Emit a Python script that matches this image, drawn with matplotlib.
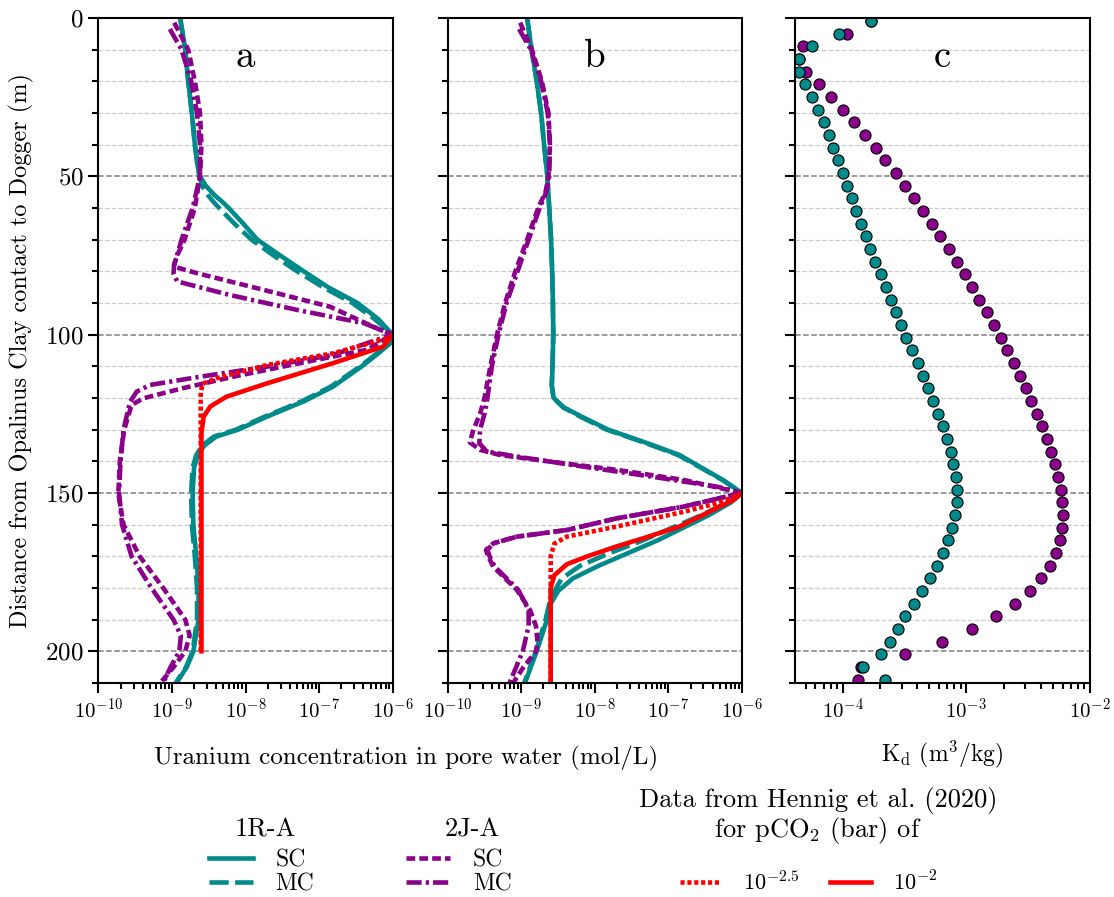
import matplotlib
matplotlib.use('Agg')
import matplotlib.pyplot as plt
import numpy as np
from matplotlib.ticker import MultipleLocator, LogLocator, NullFormatter

plt.rcParams['font.family'] = 'serif'
plt.rcParams['font.serif'] = ['cmr10']
plt.rcParams['mathtext.fontset'] = 'cm'
plt.rcParams['axes.formatter.use_mathtext'] = True

teal = '#008b8a'
purple = '#8b008b'
red = '#ff0000'

# ---------------- panel a (log10 of concentration in mol/L) ----------------
a_1r_sc_depth = [0, 10, 20, 30, 40, 47, 50, 53, 56, 58, 60, 65, 70, 75, 80, 85, 90, 95, 100,
                 102.7, 106, 110, 116.4, 121, 125.9, 130, 132.2, 135, 138, 142, 150, 160,
                 170, 180, 190, 200, 205, 210]
a_1r_sc_log = [-8.89, -8.82, -8.78, -8.73, -8.69, -8.65, -8.62, -8.54, -8.42, -8.32, -8.23,
               -8.03, -7.84, -7.53, -7.21, -6.88, -6.48, -6.20, -6.0,
               -6.03, -6.20, -6.42, -6.81, -7.20, -7.71, -8.10, -8.40, -8.56, -8.65, -8.70,
               -8.72, -8.71, -8.67, -8.64, -8.64, -8.71, -8.80, -8.94]
a_1r_mc_depth = [0, 10, 20, 30, 40, 47, 50, 53, 56, 58, 60, 65, 70, 75, 80, 85, 90, 95, 100,
                 102.7, 106, 110, 116.4, 121, 125.9, 130, 132.2, 135, 138, 142, 150, 160,
                 170, 180, 190, 200, 205, 210]
a_1r_mc_log = [-8.89, -8.82, -8.78, -8.73, -8.69, -8.65, -8.63, -8.59, -8.51, -8.44, -8.36,
               -8.15, -7.92, -7.62, -7.30, -6.95, -6.55, -6.25, -6.0,
               -6.04, -6.22, -6.44, -6.84, -7.23, -7.74, -8.13, -8.43, -8.59, -8.67, -8.72,
               -8.74, -8.73, -8.69, -8.66, -8.66, -8.72, -8.81, -8.95]
a_2j_sc_depth = [1.5, 10, 20, 30, 40, 50, 60, 70, 75, 78.5, 80.6, 85.9, 91.2, 98.5, 100,
                 104.8, 109, 113.3, 116.9, 120.1, 122.2, 130, 140, 150, 160, 170, 180, 190,
                 195, 200, 205, 210]
a_2j_sc_log = [-8.97, -8.78, -8.69, -8.62, -8.60, -8.62, -8.69, -8.83, -8.93, -8.98, -8.66,
               -7.75, -6.85, -6.17, -6.0, -6.35, -7.26, -8.17, -8.85, -9.39, -9.55, -9.65,
               -9.71, -9.73, -9.66, -9.44, -9.12, -8.82, -8.76, -8.82, -8.98, -9.16]
a_2j_mc_depth = [3.5, 10, 20, 30, 40, 50, 60, 70, 78, 80.6, 83.2, 87.5, 92.2, 96.4, 100,
                 102.7, 106.4, 110.1, 113.3, 115.9, 118, 121.2, 130, 140, 150, 160, 170, 180,
                 190, 195, 200, 205, 210]
a_2j_mc_log = [-9.03, -8.87, -8.74, -8.66, -8.62, -8.62, -8.72, -8.87, -8.97, -8.98, -8.93,
               -8.21, -7.30, -6.39, -6.0, -6.35, -6.81, -7.71, -8.62, -9.30, -9.48, -9.57,
               -9.66, -9.70, -9.72, -9.68, -9.55, -9.28, -8.98, -8.88, -8.90, -9.02, -9.12]
a_red_25_depth = [100, 101, 105.9, 109.6, 113.8, 115.5, 118, 132, 200]
a_red_25_log = [-6.0, -6.05, -6.81, -7.71, -8.40, -8.58, -8.61, -8.61, -8.61]
a_red_2_depth = [100, 103.8, 109, 115.4, 119.6, 122.7, 125.9, 131, 200]
a_red_2_log = [-6.0, -6.13, -6.81, -7.71, -8.26, -8.48, -8.57, -8.60, -8.60]

# ---------------- panel b ----------------
b_1r_sc_depth = [0, 10, 20, 30, 40, 50, 60, 70, 80, 90, 100, 110, 116, 120, 123, 126, 130,
                 134, 138, 142, 146, 150, 153, 157, 161, 165, 169, 173, 177, 181, 185, 190,
                 200, 210]
b_1r_sc_log = [-8.92, -8.86, -8.79, -8.73, -8.69, -8.645, -8.62, -8.595, -8.58, -8.57,
               -8.565, -8.575, -8.585, -8.56, -8.42, -8.17, -7.82, -7.32, -6.85, -6.55,
               -6.25, -6.0, -6.15, -6.45, -6.80, -7.15, -7.55, -7.95, -8.30, -8.50, -8.60,
               -8.65, -8.79, -8.95]
b_1r_mc_depth = [0, 10, 20, 30, 40, 50, 60, 70, 80, 90, 100, 110, 116, 120, 123, 126, 130,
                 134, 138, 142, 146, 150, 153, 157, 161, 165, 169, 173, 177, 181, 185, 190,
                 200, 210]
b_1r_mc_log = [-8.92, -8.86, -8.79, -8.73, -8.69, -8.645, -8.62, -8.595, -8.58, -8.57,
               -8.565, -8.575, -8.585, -8.565, -8.43, -8.19, -7.84, -7.34, -6.87, -6.56,
               -6.26, -6.0, -6.20, -6.55, -6.95, -7.35, -7.80, -8.20, -8.45, -8.55, -8.62,
               -8.67, -8.80, -8.96]
b_2j_sc_depth = [1.5, 10, 20, 30, 40, 50, 55, 60, 70, 80, 90, 100, 110, 120, 125, 130, 134,
                 136.4, 138, 140.1, 142.7, 145.9, 150, 154.3, 158, 161.7, 163.8, 165.9, 168,
                 170, 173.3, 180.6, 187, 192, 197, 200, 205, 210]
b_2j_sc_log = [-9.015, -8.856, -8.72, -8.63, -8.61, -8.63, -8.67, -8.77, -8.92, -9.08,
               -9.22, -9.33, -9.42, -9.50, -9.56, -9.65, -9.70, -9.56, -9.29, -8.61, -7.70,
               -6.79, -6.0, -6.79, -7.70, -8.38, -9.06, -9.38, -9.48, -9.45, -9.38, -9.06,
               -8.88, -8.80, -8.78, -8.80, -8.97, -9.11]
b_2j_mc_depth = [3.5, 10, 20, 30, 40, 50, 55, 60, 70, 80, 90, 100, 110, 120, 125, 130,
                 134.3, 136.9, 138.5, 141.7, 144.8, 148, 150, 154.3, 158, 161.7, 163.8,
                 165.9, 168, 170, 173.3, 180.6, 187, 192, 197, 200, 205, 210]
b_2j_mc_log = [-9.03, -8.87, -8.73, -8.64, -8.61, -8.62, -8.66, -8.75, -8.90, -9.05, -9.20,
               -9.31, -9.40, -9.46, -9.50, -9.56, -9.57, -9.47, -9.06, -8.15, -7.24, -6.34,
               -6.0, -6.79, -7.70, -8.38, -9.06, -9.38, -9.46, -9.43, -9.36, -9.04, -8.90,
               -8.90, -8.95, -8.98, -9.07, -9.16]
b_red_25_depth = [150, 153, 156, 160.6, 163.8, 166, 170, 210]
b_red_25_log = [-6.0, -6.3, -6.8, -7.70, -8.38, -8.55, -8.60, -8.60]
b_red_2_depth = [150, 152, 156, 160.6, 164, 167, 170, 172.5, 176, 180, 210]
b_red_2_log = [-6.0, -6.1, -6.45, -6.85, -7.30, -7.72, -8.10, -8.38, -8.55, -8.60, -8.60]

# ---------------- panel c: Kd (m3/kg) ----------------
kd_depth = [1, 5, 9, 13, 17, 21, 25, 29, 33, 37, 41, 45, 49, 53, 57, 61, 65, 69, 73, 77,
            81, 85, 89, 93, 97, 101, 105, 109, 113, 117, 121, 125, 129, 133, 137, 141, 145,
            149, 153, 157, 161, 165, 169, 173, 177, 181, 185, 189, 193, 197, 201, 205, 209]
kd_1r = [1.69e-4, 9.4e-5, 5.66e-5, 4.44e-5, 4.44e-5, 4.97e-5, 5.62e-5, 6.33e-5, 7.08e-5,
         7.7e-5, 8.4e-5, 9.2e-5, 1.0e-4, 1.08e-4, 1.18e-4, 1.28e-4, 1.41e-4, 1.53e-4,
         1.67e-4, 1.83e-4, 2.02e-4, 2.22e-4, 2.44e-4, 2.67e-4, 2.96e-4, 3.27e-4, 3.61e-4,
         4.04e-4, 4.43e-4, 4.93e-4, 5.38e-4, 5.94e-4, 6.44e-4, 6.99e-4, 7.47e-4, 7.85e-4,
         8.26e-4, 8.42e-4, 8.36e-4, 8.15e-4, 7.66e-4, 7.15e-4, 6.49e-4, 5.8e-4, 5.05e-4,
         4.38e-4, 3.75e-4, 3.21e-4, 2.81e-4, 2.42e-4, 2.03e-4, 1.47e-4, 2.19e-4]
kd_2j = [1.69e-4, 1.08e-4, 4.8e-5, 4.44e-5, 5.06e-5, 6.37e-5, 8.0e-5, 1.0e-4, 1.24e-4,
         1.52e-4, 1.84e-4, 2.21e-4, 2.67e-4, 3.17e-4, 3.77e-4, 4.47e-4, 5.25e-4, 6.17e-4,
         7.2e-4, 8.36e-4, 9.7e-4, 1.11e-3, 1.27e-3, 1.46e-3, 1.67e-3, 1.89e-3, 2.15e-3,
         2.42e-3, 2.74e-3, 3.04e-3, 3.36e-3, 3.71e-3, 4.1e-3, 4.47e-3, 4.87e-3, 5.21e-3,
         5.54e-3, 5.83e-3, 5.97e-3, 6.0e-3, 5.97e-3, 5.75e-3, 5.34e-3, 4.75e-3, 4.04e-3,
         3.27e-3, 2.46e-3, 1.74e-3, 1.11e-3, 6.37e-4, 3.21e-4, 1.41e-4, 1.32e-4]

lw = 3.3
st_1r_mc = (0, (4.2, 1.4))
st_2j_sc = (0, (1.9, 0.9))
st_2j_mc = (0, (3.3, 0.9, 0.7, 0.9))
st_red_25 = (0, (0.9, 0.6))

fig = plt.figure(figsize=(11.14, 8.97), dpi=100)
bottom, height = 0.2386, 0.7414
ax_a = fig.add_axes([0.0884, bottom, 0.2641, height])
ax_b = fig.add_axes([0.4019, bottom, 0.2641, height])
ax_c = fig.add_axes([0.7136, bottom, 0.2648, height])


def conc(v):
    return 10.0 ** np.asarray(v)


handles = {}
for ax, d in [(ax_a, dict(sc=(a_1r_sc_depth, a_1r_sc_log), mc=(a_1r_mc_depth, a_1r_mc_log),
                          jsc=(a_2j_sc_depth, a_2j_sc_log), jmc=(a_2j_mc_depth, a_2j_mc_log),
                          r25=(a_red_25_depth, a_red_25_log), r2=(a_red_2_depth, a_red_2_log))),
              (ax_b, dict(sc=(b_1r_sc_depth, b_1r_sc_log), mc=(b_1r_mc_depth, b_1r_mc_log),
                          jsc=(b_2j_sc_depth, b_2j_sc_log), jmc=(b_2j_mc_depth, b_2j_mc_log),
                          r25=(b_red_25_depth, b_red_25_log), r2=(b_red_2_depth, b_red_2_log)))]:
    handles['sc'], = ax.plot(conc(d['sc'][1]), d['sc'][0], color=teal, lw=lw)
    handles['mc'], = ax.plot(conc(d['mc'][1]), d['mc'][0], color=teal, lw=lw, ls=st_1r_mc)
    handles['jsc'], = ax.plot(conc(d['jsc'][1]), d['jsc'][0], color=purple, lw=lw, ls=st_2j_sc)
    handles['jmc'], = ax.plot(conc(d['jmc'][1]), d['jmc'][0], color=purple, lw=lw, ls=st_2j_mc)
    handles['r25'], = ax.plot(conc(d['r25'][1]), d['r25'][0], color=red, lw=lw, ls=st_red_25)
    handles['r2'], = ax.plot(conc(d['r2'][1]), d['r2'][0], color=red, lw=lw)
    ax.set_xscale('log')
    ax.set_xlim(1e-10, 1e-6)

ax_c.plot(kd_2j, kd_depth, 'o', color=purple, mec='black', mew=0.8, ms=8)
ax_c.plot(kd_1r, kd_depth, 'o', color=teal, mec='black', mew=0.8, ms=8)
ax_c.set_xscale('log')
ax_c.set_xlim(4.1e-5, 1e-2)

for ax, letter in [(ax_a, 'a'), (ax_b, 'b'), (ax_c, 'c')]:
    ax.set_ylim(210, 0)
    ax.yaxis.set_major_locator(MultipleLocator(50))
    ax.yaxis.set_minor_locator(MultipleLocator(10))
    ax.xaxis.set_major_locator(LogLocator(base=10, numticks=10))
    ax.xaxis.set_minor_locator(LogLocator(base=10, subs=np.arange(2, 10), numticks=100))
    ax.xaxis.set_minor_formatter(NullFormatter())
    ax.grid(axis='y', which='major', color='#808080', ls='--', lw=1.1)
    ax.grid(axis='y', which='minor', color='#cccccc', ls='--', lw=0.9)
    ax.tick_params(which='both', direction='out', width=1.5, labelsize=15, top=False, right=False)
    ax.tick_params(axis='y', labelsize=18)
    ax.tick_params(which='major', length=7)
    ax.tick_params(which='minor', length=4)
    for sp in ax.spines.values():
        sp.set_linewidth(1.5)
    ax.text(0.5, 0.941, letter, transform=ax.transAxes, ha='center', va='center', fontsize=28)

ax_b.tick_params(labelleft=False)
ax_c.tick_params(labelleft=False)

ax_a.set_ylabel('Distance from Opalinus Clay contact to Dogger (m)', fontsize=17.5, labelpad=8)
fig.text(0.3645, 0.155, 'Uranium concentration in pore water (mol/L)', ha='center', va='center',
         fontsize=18)
ax_c.set_xlabel(r'K$_\mathrm{d}$ (m$^3$/kg)', fontsize=17, labelpad=12)

# legend titles
fig.text(265 / 1114, 1 - 830 / 897, '1R-A', ha='center', va='center', fontsize=19)
fig.text(472 / 1114, 1 - 830 / 897, '2J-A', ha='center', va='center', fontsize=19)
fig.text(818 / 1114, 1 - 800 / 897, 'Data from Hennig et al. (2020)', ha='center', va='center',
         fontsize=19)
fig.text(818 / 1114, 1 - 830 / 897, 'for pCO$_2$ (bar) of', ha='center', va='center', fontsize=19)

leg_kw = dict(frameon=False, fontsize=17, handlelength=1.86, handletextpad=0.97,
              labelspacing=0.1, borderpad=0, borderaxespad=0, loc='upper center')
fig.legend([handles['sc'], handles['mc']], ['SC', 'MC'],
           bbox_to_anchor=(0.2347, 1 - 849 / 897), **leg_kw)
fig.legend([handles['jsc'], handles['jmc']], ['SC', 'MC'],
           bbox_to_anchor=(0.412, 1 - 849 / 897), **leg_kw)
fig.legend([handles['r25'], handles['r2']], [r'10$^{\mathrm{-2.5}}$', r'10$^{\mathrm{-2}}$'],
           ncol=2, columnspacing=1.4, bbox_to_anchor=(0.7258, 1 - 870 / 897),
           **dict(leg_kw, fontsize=16))

fig.savefig('out.png', dpi=100)
